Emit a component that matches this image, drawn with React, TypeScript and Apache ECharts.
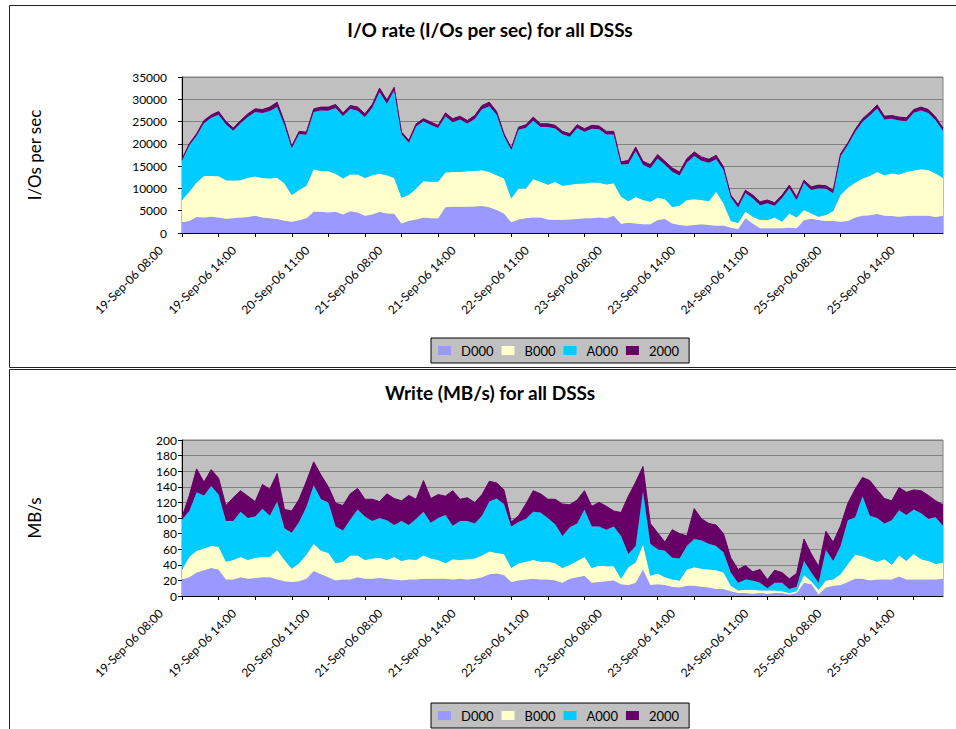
import React, { useEffect, useRef } from 'react';
import * as echarts from 'echarts';

const FONT = 'Lato, "Open Sans", sans-serif';

const xLabels = [
  '19-Sep-06 08:00', '19-Sep-06 14:00', '20-Sep-06 11:00', '21-Sep-06 08:00',
  '21-Sep-06 14:00', '22-Sep-06 11:00', '23-Sep-06 08:00', '23-Sep-06 14:00',
  '24-Sep-06 11:00', '25-Sep-06 08:00', '25-Sep-06 14:00',
];

const seriesNames = ['D000', 'B000', 'A000', '2000'];
const seriesColors = ['#9999FF', '#FFFFCC', '#00CCFF', '#660066'];

// I/O rate (I/Os per sec)
const ioD000 = [2400,2700,3600,3500,3650,3450,3200,3300,3450,3600,3850,3500,3300,3150,2750,2550,2850,3300,4750,4750,4600,4750,4150,4900,4600,3850,4150,4750,4400,4300,2150,2750,3050,3500,3300,3300,5800,5900,5900,5900,5950,6050,5750,5150,4400,2400,3050,3300,3500,3450,3050,2900,3000,3050,3150,3300,3300,3500,3300,3850,2100,2300,2150,1950,1950,2900,3150,2150,1800,1650,1800,1950,1800,1650,1700,1200,900,3300,2150,1050,1050,1050,1050,1200,1050,2850,3200,2900,2700,2700,2550,2700,3450,3850,4000,4250,3850,3800,3650,3800,3850,3850,3850,3600,3850];
const ioB000 = [5000,6550,7750,9300,9150,9300,8650,8500,8400,8800,8850,8850,8950,9250,8350,5950,6800,7300,9550,9100,9250,8550,8050,8200,8500,8500,8800,8550,8550,8050,5750,5750,6950,8100,8200,8200,7750,7800,7800,7950,7950,8050,7950,7800,7800,5350,6950,6700,8550,8050,7800,8550,7600,7800,7900,7800,8050,7750,7600,7300,6050,4850,5950,5450,5050,5000,4450,3700,4300,5750,5800,5450,5350,7600,4900,1500,1350,1500,1500,1850,1850,2400,1500,3200,2400,2300,1200,750,1350,2250,5950,7450,7800,8350,8800,9450,9100,9550,9450,9900,10200,10450,10300,9750,8500];
const ioA000 = [8850,10400,10450,11850,13050,13800,12550,11150,12750,13650,14450,14600,15100,15850,13100,10500,12550,11450,12850,13650,13600,14750,14050,14750,14350,13700,15150,18350,16050,19650,14250,11750,13900,13450,12750,12050,12650,11150,11750,10700,11700,13650,14750,13600,9550,10850,13150,13600,13200,12300,12950,12000,11550,10750,12500,11600,12050,12000,11200,10950,7200,8350,10300,7900,7550,8800,7700,7900,6800,8400,9700,8800,8600,7300,7550,5300,3450,4200,4150,3350,3750,2650,5300,5650,3950,6050,5250,6400,5850,3950,8700,9600,11400,12750,13550,14250,12500,12300,12150,11350,12950,13200,12800,11950,10600];
const io2000 = [300,400,500,600,650,700,650,600,650,700,700,750,900,1100,700,500,600,600,700,750,800,800,700,750,800,700,750,850,850,700,500,550,600,600,650,600,750,800,750,700,750,850,900,700,550,450,600,700,750,700,700,700,650,700,750,700,750,750,700,700,600,800,900,800,800,900,800,850,800,900,900,850,800,900,700,500,700,600,700,750,750,700,650,700,700,650,700,700,700,700,600,500,600,700,750,800,750,700,750,800,700,750,750,700,600];

// Write (MB/s)
const mbD000 = [21,24,30,33,36,34,21,21,24,22,23,24,24,21,19,18,19,22,32,28,24,20,21,21,24,22,22,23,22,21,20,21,21,22,22,22,22,21,22,21,22,24,28,29,27,18,20,21,22,21,21,20,17,22,24,26,17,18,19,20,15,14,17,34,14,15,14,12,11,13,13,12,11,9,9,6,4,4,3,4,3,4,4,2,4,17,15,2,11,13,14,18,22,22,20,21,21,21,25,21,21,21,21,21,22];
const mbB000 = [13,26,28,28,28,29,23,25,26,24,26,26,26,38,27,17,23,31,35,30,31,22,23,31,28,24,26,26,24,29,25,26,25,30,26,24,20,26,24,26,26,28,29,26,27,18,22,23,24,23,23,22,19,18,21,24,19,21,19,18,7,23,26,32,12,14,10,9,9,21,24,23,23,24,21,7,3,4,5,3,4,3,2,2,2,10,4,6,9,8,14,23,31,29,27,23,26,19,27,24,33,26,24,20,21];
const mbA000 = [64,59,75,68,77,67,52,50,58,54,53,62,53,62,41,46,53,61,75,66,65,47,40,46,59,56,48,51,51,41,51,44,53,56,46,54,62,43,50,49,45,51,64,70,64,53,53,55,62,63,56,50,41,48,48,61,53,50,47,51,55,17,21,68,41,31,34,28,28,30,36,36,33,31,26,17,10,13,12,10,3,10,11,5,6,18,11,9,39,24,36,56,48,77,56,56,46,57,58,59,57,59,54,60,47];
const mb2000 = [3,20,30,17,21,21,20,30,27,28,19,31,34,36,24,28,29,33,30,31,20,30,32,33,27,22,28,21,34,34,26,38,25,40,31,30,24,45,28,30,27,27,26,20,18,6,8,19,27,24,24,32,41,29,30,24,26,31,30,20,30,74,82,32,26,21,11,36,32,13,39,28,26,27,24,19,17,18,11,17,11,16,13,13,17,28,24,21,24,24,26,22,36,24,45,36,32,25,29,29,25,29,30,21,27];

const ioSeries = [ioD000, ioB000, ioA000, io2000];
const mbSeries = [mbD000, mbB000, mbA000, mb2000];

const N = ioD000.length;
const categories = Array.from({ length: N }, (_, i) => (i % 10 === 0 ? xLabels[i / 10] : ''));

const charts = [
  { title: 'I/O rate (I/Os per sec) for all DSSs', titleY: 29, yName: 'I/Os per sec', max: 35000, interval: 5000, data: ioSeries, top: 77, labelMargin: 15, legendTop: 338 },
  { title: 'Write (MB/s) for all DSSs', titleY: 392, yName: 'MB/s', max: 200, interval: 20, data: mbSeries, top: 440, labelMargin: 5, legendTop: 703 },
];

export default function App() {
  const ref = useRef<HTMLDivElement>(null);
  useEffect(() => {
    if (!ref.current) return;
    const chart = echarts.init(ref.current, undefined, { renderer: 'svg' });
    const option: any = {
      animation: false,
      backgroundColor: '#ffffff',
      textStyle: { fontFamily: FONT },
      grid: charts.map((c) => ({
        left: 182, top: c.top, width: 761, height: 156, show: true,
        backgroundColor: '#C0C0C0', borderColor: '#808080', borderWidth: 1,
      })),
      xAxis: charts.map((c, k) => ({
        type: 'category', gridIndex: k, data: categories, boundaryGap: false,
        axisLine: { lineStyle: { color: '#000', width: 1 } },
        axisTick: { interval: 4, length: 4, lineStyle: { color: '#000' } },
        axisLabel: {
          interval: 9, rotate: 45, fontSize: 12, color: '#000', fontFamily: FONT,
          margin: -6, padding: [0, 30, 0, 0],
        },
        splitLine: { show: false },
      })),
      yAxis: charts.map((c, k) => ({
        type: 'value', gridIndex: k, min: 0, max: c.max, interval: c.interval,
        axisLine: { show: true, lineStyle: { color: '#000' } },
        axisTick: { show: true, length: 4, lineStyle: { color: '#000' } },
        axisLabel: { margin: c.labelMargin, fontSize: 12, color: '#000', fontFamily: FONT, formatter: (v: number) => String(v) },
        splitLine: { lineStyle: { color: '#808080', width: 1 } },
        name: c.yName, nameLocation: 'middle', nameGap: 139, nameRotate: 90,
        nameTextStyle: { fontSize: 17, color: '#000', fontFamily: FONT },
      })),
      legend: charts.map((c) => ({
        left: 431, top: c.legendTop, orient: 'horizontal', icon: 'rect',
        itemWidth: 13, itemHeight: 9, itemGap: 8, padding: [6, 10, 6, 7],
        backgroundColor: '#C0C0C0', borderColor: '#000', borderWidth: 1,
        selectedMode: false,
        textStyle: { fontSize: 13, fontFamily: FONT, color: '#000', padding: [0, 0, 0, 5] },
        data: seriesNames.map((n, i) => ({ name: n, itemStyle: { color: seriesColors[i] } })),
      })),
      series: charts.flatMap((c, k) =>
        seriesNames.map((name, s) => ({
          type: 'line', name, xAxisIndex: k, yAxisIndex: k, stack: 'stack' + k,
          data: c.data[s], showSymbol: false, symbol: 'none',
          itemStyle: { color: seriesColors[s] },
          lineStyle: { width: s === 3 ? 1 : 0, color: seriesColors[s] },
          areaStyle: { color: seriesColors[s], opacity: 1 },
        }))
      ),
      graphic: [
        { type: 'rect', silent: true, shape: { x: 9.5, y: 5.5, width: 1000, height: 362 }, style: { fill: 'none', stroke: '#222', lineWidth: 1 } },
        { type: 'rect', silent: true, shape: { x: 9.5, y: 369.5, width: 1000, height: 400 }, style: { fill: 'none', stroke: '#222', lineWidth: 1 } },
        ...charts.map((c) => ({
          type: 'text', silent: true, x: 490, y: c.titleY,
          style: { text: c.title, align: 'center', verticalAlign: 'middle', fontSize: 19, fontWeight: 'bold', fontFamily: FONT, fill: '#000' },
        })),
      ],
    };
    chart.setOption(option);
    return () => chart.dispose();
  }, []);
  return <div ref={ref} style={{ position: 'absolute', left: 0, top: 0, width: 956, height: 729 }} />;
}
